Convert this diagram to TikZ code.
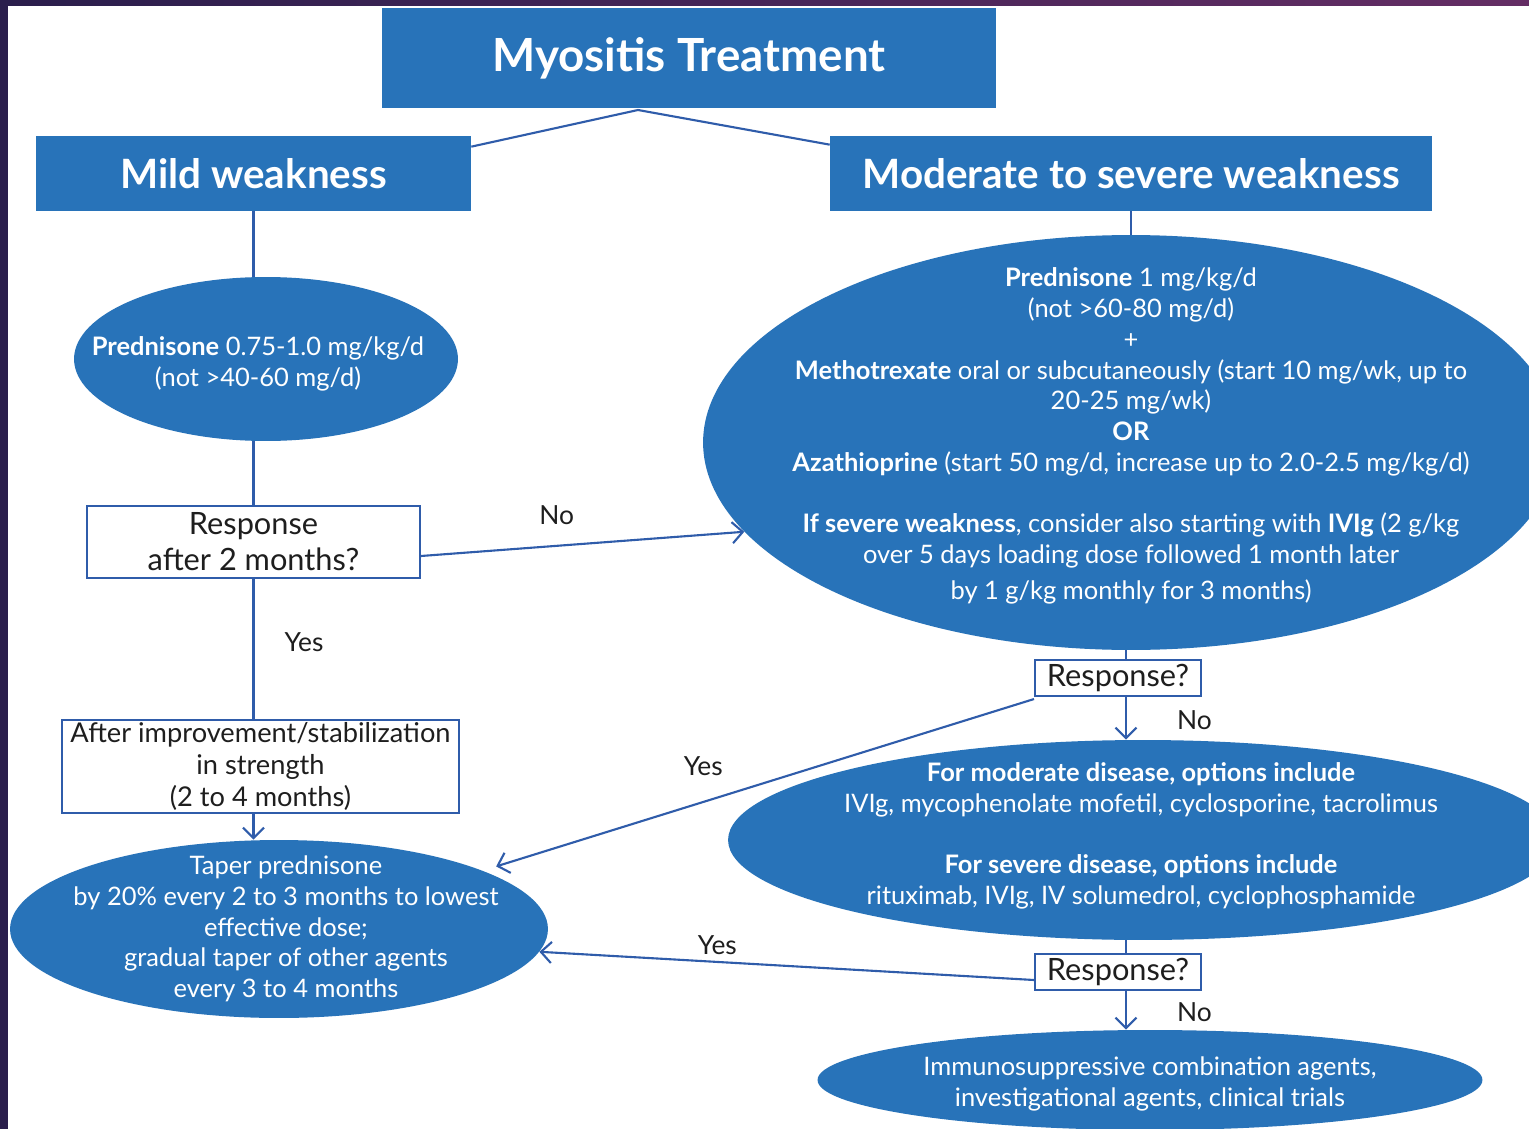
\documentclass[tikz,border=0pt]{standalone}
\usepackage{fontspec}
\setmainfont{Lato}
\usetikzlibrary{shapes.geometric, arrows.meta, positioning}
\definecolor{myoBlue}{RGB}{40, 115, 185}
\definecolor{myoLine}{RGB}{47, 92, 170}
\definecolor{myoText}{RGB}{30, 30, 30}
\definecolor{myoDark}{RGB}{42, 30, 76}
\definecolor{myoPurple}{RGB}{100, 45, 100}

\begin{document}
\begin{tikzpicture}[x=0.02cm, y=-0.02cm,
  head/.style={rectangle, fill=myoBlue, text=white, inner sep=0pt,
               font=\fontsize{23}{28}\selectfont\bfseries},
  oval/.style={ellipse, fill=myoBlue, inner sep=0pt},
  ovaltext/.style={text=white, inner sep=0pt, align=center,
                   font=\fontsize{14.5}{17.5}\selectfont},
  query/.style={rectangle, draw=myoLine, line width=1.2pt, fill=white,
                text=myoText, inner sep=0pt, align=center,
                font=\fontsize{17.5}{20.5}\selectfont},
  link/.style={myoLine, line width=1.2pt},
  arrow/.style={link, -{Straight Barb[length=6pt, width=12pt]}},
  note/.style={text=myoText, inner sep=0pt, font=\fontsize{15}{18}\selectfont},
]
  \useasboundingbox (0,0) rectangle (1529,1129);
  \clip (0,0) rectangle (1529,1129);
  \fill[white] (0,0) rectangle (1529,1129);
  \fill[myoDark] (0,0) rectangle (8,1129);
  \shade[left color=myoDark, right color=myoPurple] (0,0) rectangle (1529,5);

  % headings
  \node[head, minimum width=12.28cm, minimum height=2cm,
        font=\fontsize{26}{30}\selectfont\bfseries] (title) at (689,58)
    {Myositis Treatment};
  \node[head, minimum width=8.7cm, minimum height=1.5cm] (mild) at (253.5,173.5)
    {Mild weakness};
  \node[head, minimum width=12.04cm, minimum height=1.5cm] (moderate) at (1131,173.5)
    {Moderate to severe weakness};

  % mild branch
  \node[oval, minimum width=7.68cm, minimum height=3.28cm] (pred) at (266,359) {};
  \node[ovaltext] (predtext) at (258,364)
    {\textbf{Prednisone} 0.75-1.0 mg/kg/d\\(not >40-60 mg/d)};
  \node[query, minimum width=6.66cm, minimum height=1.44cm] (respA) at (253.5,542)
    {Response\\after 2 months?};
  \node[query, minimum width=7.94cm, minimum height=1.86cm,
        font=\fontsize{15.5}{18}\selectfont] (after) at (260.5,766.5)
    {After improvement/stabilization\\in strength\\(2 to 4 months)};
  \node[oval, minimum width=10.76cm, minimum height=3.56cm] (taper) at (279,929) {};
  \node[ovaltext] (tapertext) at (286,929)
    {Taper prednisone\\by 20\% every 2 to 3 months to lowest\\effective dose;\\
     gradual taper of other agents\\every 3 to 4 months};

  % moderate branch
  \node[oval, minimum width=17.12cm, minimum height=8.3cm] (big) at (1131,442.5) {};
  \node[ovaltext] (bigtext) at (1131,436)
    {\textbf{Prednisone} 1 mg/kg/d\\(not >60-80 mg/d)\\+\\
     \textbf{Methotrexate} oral or subcutaneously (start 10 mg/wk, up to\\
     20-25 mg/wk)\\\textbf{OR}\\
     \textbf{Azathioprine} (start 50 mg/d, increase up to 2.0-2.5 mg/kg/d)\\[17.5pt]
     \textbf{If severe weakness}, consider also starting with \textbf{IVIg} (2 g/kg\\
     over 5 days loading dose followed 1 month later\\[3pt]
     by 1 g/kg monthly for 3 months)};
  \node[query, minimum width=3.32cm, minimum height=0.72cm] (respB) at (1118,678)
    {Response?};
  \node[oval, minimum width=16.6cm, minimum height=4cm] (options) at (1143,840) {};
  \node[ovaltext] (optionstext) at (1141,836)
    {\textbf{For moderate disease, options include}\\
     IVIg, mycophenolate mofetil, cyclosporine, tacrolimus\\[17.5pt]
     \textbf{For severe disease, options include}\\
     rituximab, IVIg, IV solumedrol, cyclophosphamide};
  \node[query, minimum width=3.32cm, minimum height=0.72cm] (respC) at (1118,972)
    {Response?};
  \node[oval, minimum width=13.3cm, minimum height=2cm] (trials) at (1150,1080) {};
  \node[ovaltext] (trialstext) at (1150,1084)
    {Immunosuppressive combination agents,\\investigational agents, clinical trials};

  % connectors
  \coordinate (split) at (638,110);
  \draw[link] (split) -- ([yshift=-0.22cm]mild.north east);
  \draw[link] (split) -- ([yshift=-0.18cm]moderate.north west);
  \draw[link] (mild.south) -- (mild.south |- pred.north);
  \draw[link] (respA.north |- pred.south) -- (respA.north);
  \draw[arrow] ([yshift=-0.28cm]respA.east) -- (big.193)
    node[note, pos=0.42, above=0.4cm] {No};
  \draw[link] (respA.south) -- (respA.south |- after.north)
    node[note, pos=0.45, right=0.6cm] {Yes};
  \draw[arrow] (respA.south |- after.south) -- (respA.south |- taper.north);

  \draw[link] (moderate.south) -- (big.north);
  \draw[link] ([xshift=0.16cm]respB.north |- big.south) -- ([xshift=0.16cm]respB.north);
  \draw[arrow] ([xshift=0.16cm]respB.south) -- ([xshift=0.16cm]respB.south |- options.north)
    node[note, pos=0.55, right=1cm] {No};
  \draw[arrow, shorten >=8pt] ([yshift=-0.04cm]respB.south west) -- (taper.16)
    node[note, pos=0.6, above=0.5cm] {Yes};
  \draw[link] ([xshift=0.16cm]respC.north |- options.south) -- ([xshift=0.16cm]respC.north);
  \draw[arrow] ([yshift=-0.16cm]respC.west) -- (taper.-5)
    node[note, pos=0.64, above=0.12cm] {Yes};
  \draw[arrow] ([xshift=0.16cm]respC.south) -- ([xshift=0.16cm]respC.south |- trials.north)
    node[note, pos=0.55, right=1cm] {No};
\end{tikzpicture}
\end{document}
